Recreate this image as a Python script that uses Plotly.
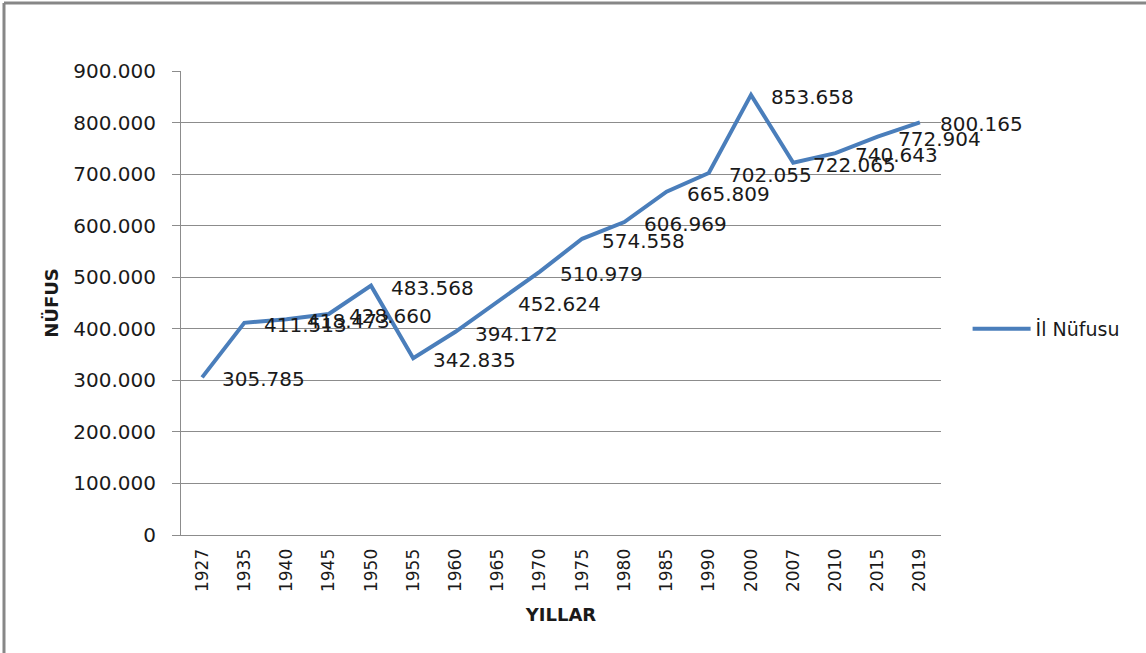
import plotly.graph_objects as go

years = ["1927", "1935", "1940", "1945", "1950", "1955", "1960", "1965", "1970",
         "1975", "1980", "1985", "1990", "2000", "2007", "2010", "2015", "2019"]
population = [305785, 411513, 418473, 428660, 483568, 342835, 394172, 452624, 510979,
              574558, 606969, 665809, 702055, 853658, 722065, 740643, 772904, 800165]
series_name = "İl Nüfusu"
y_ticks = [0, 100000, 200000, 300000, 400000, 500000, 600000, 700000, 800000, 900000]


def fmt(v):
    return f"{v:,}".replace(",", ".")


fig = go.Figure()
fig.add_trace(go.Scatter(
    x=years, y=population, mode="lines", name=series_name,
    line=dict(color="#4A7EBB", width=4),
))

for i, v in enumerate(population):
    fig.add_annotation(
        x=i, y=v, text=fmt(v), showarrow=False, xanchor="left", yanchor="middle",
        xshift=18, yshift=-2,
        font=dict(family="DejaVu Sans", size=20, color="#1a1a1a"),
    )

GRID = "#8c8c8c"
fig.update_layout(
    width=1146, height=653,
    margin=dict(l=181, r=205, t=71, b=118),
    paper_bgcolor="white", plot_bgcolor="white",
    separators=",.",
    showlegend=True,
    legend=dict(x=1.035, y=0.444, xanchor="left", yanchor="middle",
                font=dict(family="DejaVu Sans", size=19, color="#1a1a1a"),
                itemwidth=58, bgcolor="rgba(0,0,0,0)"),
    xaxis=dict(
        type="category", range=[-0.5, 17.5], showgrid=False,
        showline=True, linecolor=GRID, linewidth=1,
        tickangle=-90, ticks="", ticklabelstandoff=6,
        tickfont=dict(family="DejaVu Sans", size=17, color="#1a1a1a"),
        title=dict(text="<b>YILLAR</b>", standoff=17,
                   font=dict(family="DejaVu Sans", size=18, color="#1a1a1a")),
    ),
    yaxis=dict(
        range=[0, 900000], tickvals=y_ticks, ticktext=[fmt(v) for v in y_ticks],
        showgrid=True, gridcolor=GRID, gridwidth=1,
        showline=True, linecolor=GRID, linewidth=1,
        ticks="outside", ticklen=8, tickcolor=GRID, ticklabelstandoff=12,
        tickfont=dict(family="DejaVu Sans", size=20, color="#1a1a1a"),
        zeroline=False,
        title=dict(text="<b>NÜFUS</b>", standoff=9,
                   font=dict(family="DejaVu Sans", size=18, color="#1a1a1a")),
    ),
)

# chart area border (top and left visible)
fig.add_shape(type="line", xref="paper", yref="paper",
              x0=-0.2329, x1=1.3, y0=1.1466, y1=1.1466,
              line=dict(color="#878787", width=3))
fig.add_shape(type="line", xref="paper", yref="paper",
              x0=-0.2329, x1=-0.2329, y0=-0.3, y1=1.1466,
              line=dict(color="#878787", width=3))

fig.write_html("out.html", config={"displayModeBar": False},
               post_script="document.body.style.margin='0px';")
